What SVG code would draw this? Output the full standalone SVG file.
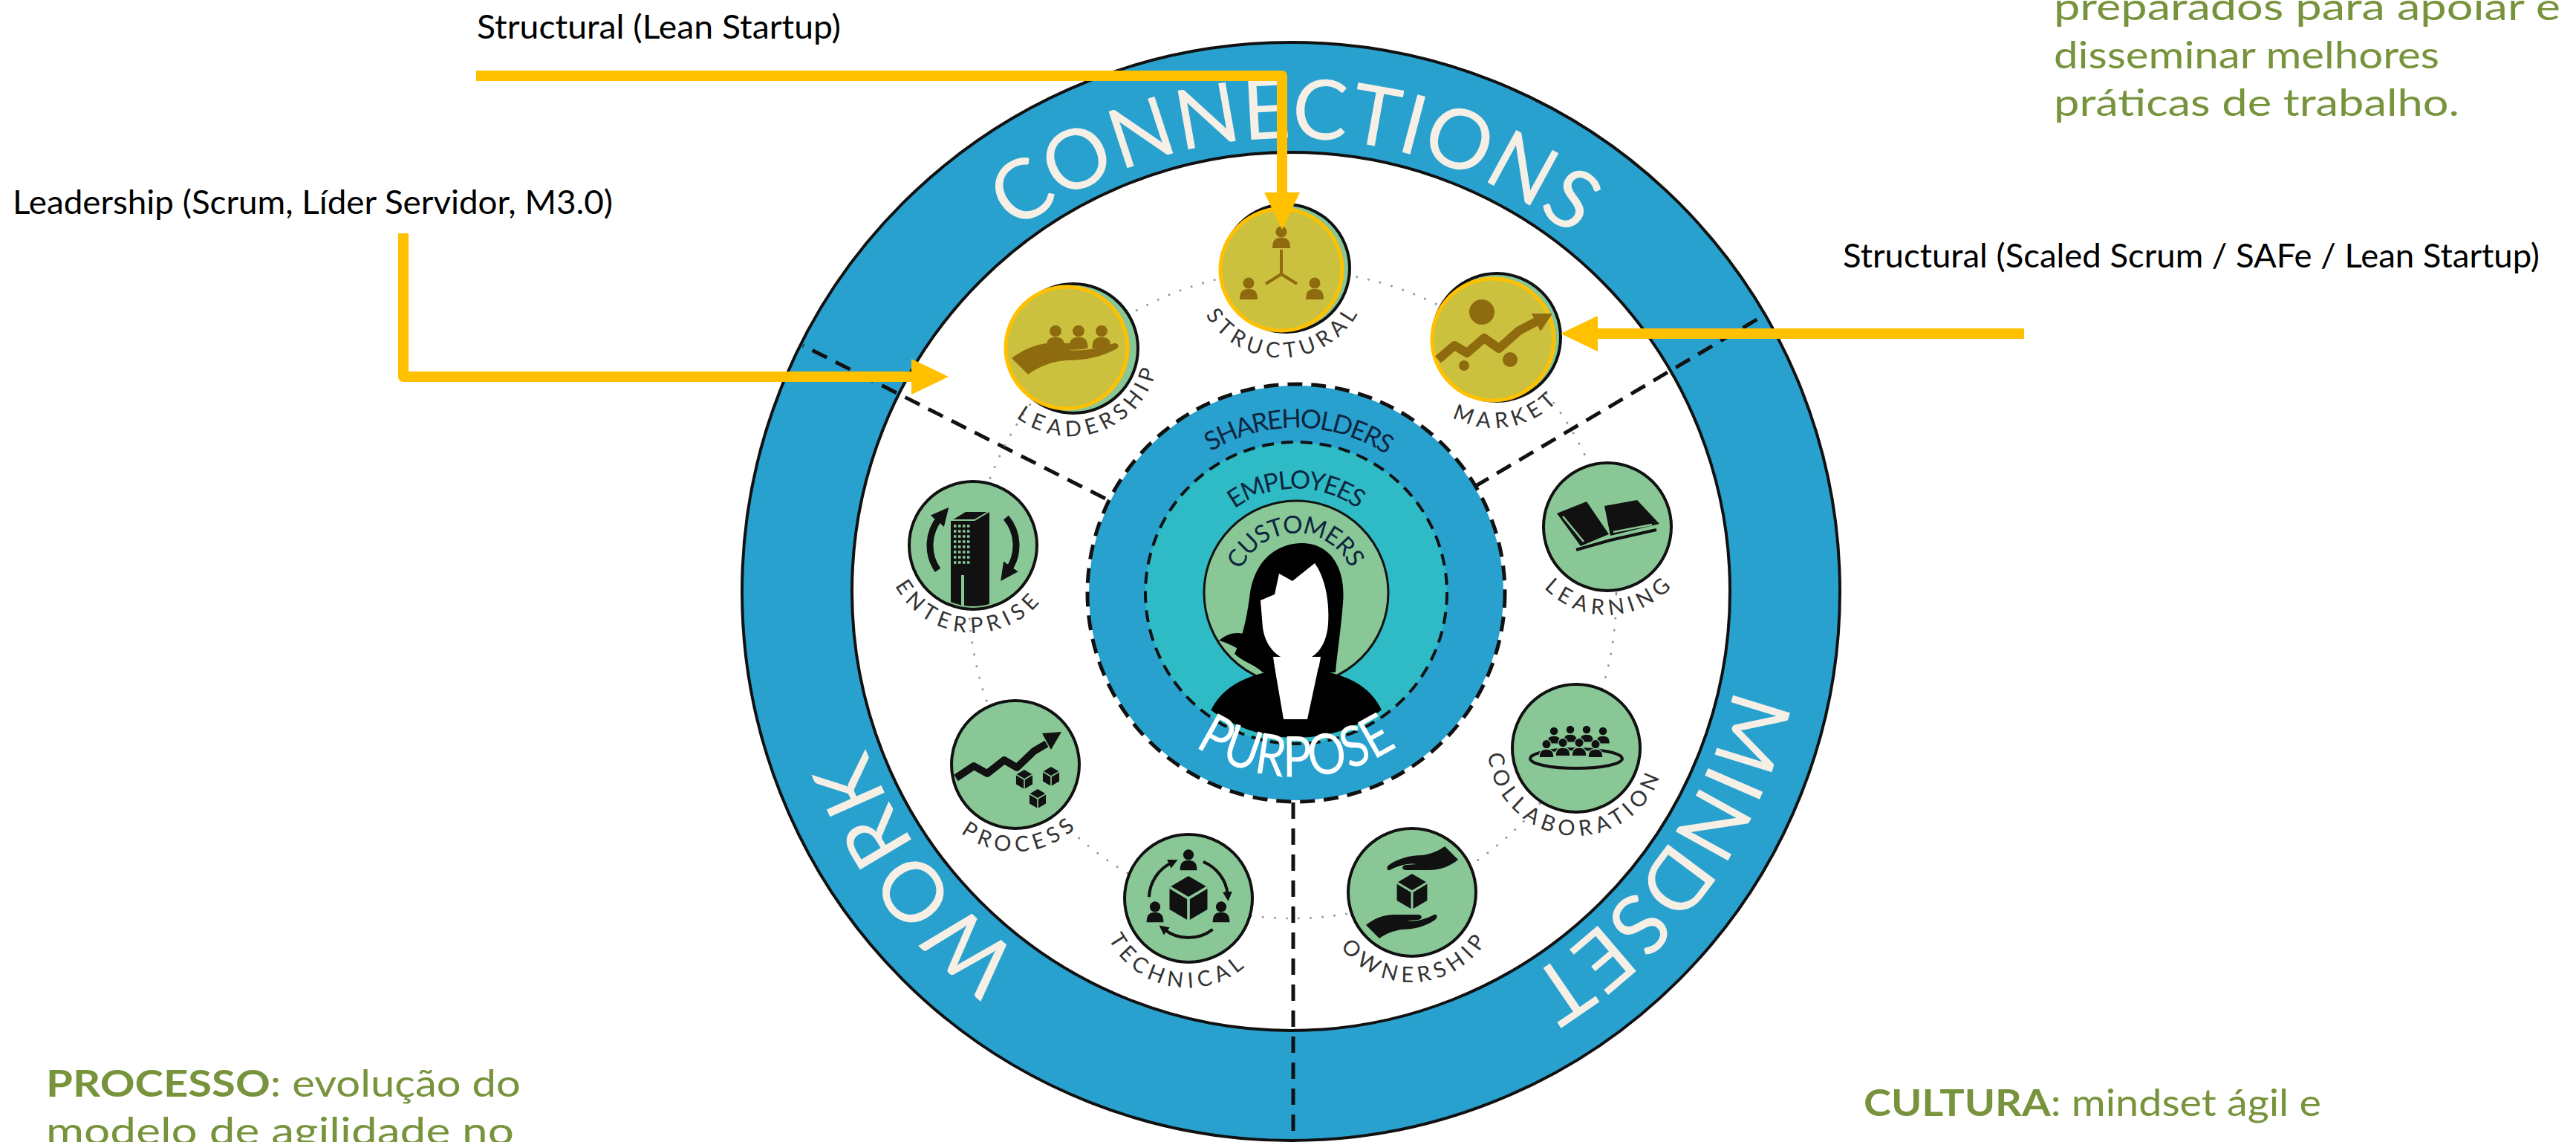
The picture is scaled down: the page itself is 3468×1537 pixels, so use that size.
<svg xmlns="http://www.w3.org/2000/svg" width="3468" height="1537" viewBox="0 0 3468 1537">
<style>
.ann{font-family:Lato,"Liberation Sans",sans-serif;font-size:44px;fill:#000}
.grn{font-family:Lato,"Liberation Sans",sans-serif;font-size:50px;fill:#77933c}
.rl{font-family:Lato,"Open Sans",sans-serif;font-size:112px;fill:#f5efe6}
.cl{font-family:Lato,"Open Sans",sans-serif;fill:#0d2640}
.nl{font-family:Lato,"Open Sans",sans-serif;font-size:29px;fill:#333;letter-spacing:7px}
.gn{fill:#89c796;stroke:#111;stroke-width:4}
.yn{fill:#ccc13f;stroke:#ffc000;stroke-width:5}
.ib{fill:#111}
.iy{fill:#8d6b0e}
.arc{fill:none;stroke:#111;stroke-width:4}
.conn{fill:none;stroke:#ffc000;stroke-width:14;stroke-linejoin:round}
.dash{fill:none;stroke:#111;stroke-width:5;stroke-dasharray:22 13}
</style>
<defs>
<marker id="ah" markerUnits="userSpaceOnUse" viewBox="0 0 50 48" markerWidth="50" markerHeight="48" refX="1" refY="24" orient="auto"><path d="M0,0 L50,24 L0,48 Z" fill="#ffc000"/></marker>
<marker id="ia" markerUnits="userSpaceOnUse" viewBox="0 0 12 12" markerWidth="13" markerHeight="13" refX="4" refY="6" orient="auto"><path d="M0,0 L12,6 L0,12 Z" fill="#111"/></marker>
<marker id="ea" markerUnits="userSpaceOnUse" viewBox="0 0 12 12" markerWidth="24" markerHeight="24" refX="3" refY="6" orient="auto"><path d="M0,0 L12,6 L0,12 Z" fill="#111"/></marker>
<g id="pp"><circle cx="0" cy="-9" r="7.5"/><path d="M-12,13 C-12,1 -7,-1 0,-1 C7,-1 12,1 12,13 Z"/></g>
<g id="cube"><polygon points="0,-20 17,-10 17,10 0,20 -17,10 -17,-10"/><path d="M-17,-10 L0,0 L17,-10 M0,0 V20" fill="none" stroke="#89c796" stroke-width="2.5"/></g>
<path id="hand" d="M-62,44 C-52,36 -40,30 -22,30 L8,30 C14,30 15,36 8,37 L-6,38 C6,40 18,36 30,30 C34,29 35,34 31,37 C18,46 2,50 -14,50 C-26,52 -36,56 -44,62 Z"/>
<clipPath id="nclip"><circle cx="0" cy="0" r="82"/></clipPath>
<clipPath id="pclip"><circle cx="1745" cy="798" r="195"/></clipPath>
<path id="pc" d="M1138.2,684.9 A610,610 0 0 1 2339.6,695.3"/>
<path id="pw" d="M2014.9,1339.5 A610,610 0 0 1 1291.9,380.0"/>
<path id="pm" d="M2173.1,368.5 A610,610 0 0 1 1475.4,1346.6"/>
<path id="psh" d="M1524.2,774.8 A222,222 0 0 1 1966.5,782.5"/>
<path id="pem" d="M1605.5,785.8 A140,140 0 0 1 1884.5,785.8"/>
<path id="pcu" d="M1665.2,792.4 A80,80 0 0 1 1824.6,789.6"/>
<path id="ppu" d="M1498.9,819.5 A247,247 0 0 0 1991.1,819.5"/>
<path id="l1" d="M1606.2,369.2 A119,119 0 0 0 1844,360.9"/>
<path id="l2" d="M1330.9,511.6 A119,119 0 0 0 1554.5,430.3"/>
<path id="l3" d="M1895.2,480.7 A119,119 0 0 0 2129.5,439.4"/>
<path id="l4" d="M2045.2,715.2 A119,119 0 0 0 2283,706.9"/>
<path id="l5" d="M2003.5,996.6 A119,119 0 0 0 2240.1,1021.5"/>
<path id="l6" d="M1781.9,1217.5 A119,119 0 0 0 2019,1200.9"/>
<path id="l7" d="M1480.9,1195.5 A119,119 0 0 0 1715,1236.8"/>
<path id="l8" d="M1248.5,1039.4 A119,119 0 0 0 1485.8,1022.8"/>
<path id="l9" d="M1191.3,725.7 A119,119 0 0 0 1428.3,746.4"/>
</defs>
<rect x="0" y="0" width="3468" height="1537" fill="#fff"/>

<g id="outer-ring">
<circle cx="1738" cy="796" r="665" fill="none" stroke="#29a1cf" stroke-width="148"/>
<circle cx="1738" cy="796" r="739" fill="none" stroke="#111" stroke-width="4"/>
<circle cx="1738" cy="796" r="591" fill="none" stroke="#111" stroke-width="4"/>
<text class="rl" text-anchor="middle"><textPath href="#pc" startOffset="50%" textLength="809">CONNECTIONS</textPath></text>
<text class="rl" text-anchor="middle"><textPath href="#pw" startOffset="50%" textLength="355">WORK</textPath></text>
<text class="rl" text-anchor="middle"><textPath href="#pm" startOffset="50%" textLength="495">MINDSET</textPath></text>
</g>

<g id="sector-lines">
<path class="dash" d="M1488,671 L1081,465"/>
<path class="dash" d="M1985,655 L2377,423"/>
<path class="dash" d="M1741,1080 L1741,1537"/>
</g>

<circle cx="1740" cy="800" r="436" fill="none" stroke="#9a9a9a" stroke-width="3" stroke-dasharray="0.1 16" stroke-linecap="round"/>

<g id="center">
<circle cx="1745" cy="798" r="279" fill="#29a1cf"/>
<circle cx="1745" cy="798" r="281" fill="none" stroke="#111" stroke-width="5" stroke-dasharray="20 12"/>
<circle cx="1745" cy="798" r="203" fill="#2ebbc6"/>
<circle cx="1745" cy="798" r="203" fill="none" stroke="#111" stroke-width="4" stroke-dasharray="16 10"/>
<circle cx="1745" cy="798" r="124" fill="#89c796" stroke="#111" stroke-width="3"/>
<g clip-path="url(#pclip)">
<path d="M1700,905 C1690,895 1672,890 1662,880 C1672,860 1678,835 1682,805 C1686,762 1712,732 1752,731 C1792,731 1812,765 1808,812 C1805,850 1800,880 1798,905 Z" fill="#000"/>
<path d="M1641,862 C1660,846 1682,850 1692,868 L1694,898 C1680,880 1662,868 1641,862 Z" fill="#000"/>
<path d="M1697,808 L1716,800 L1722,772 L1740,782 L1770,758 C1784,778 1790,808 1788,840 C1786,868 1772,888 1748,890 C1722,890 1704,872 1700,845 Z" fill="#fff"/>
<path d="M1714,884 L1778,884 L1763,968 L1726,968 Z" fill="#fff"/>
<path d="M1618,1000 C1625,945 1650,918 1703,905 L1716,898 L1728,968 L1760,968 L1775,898 L1790,905 C1842,918 1865,945 1872,1000 Z" fill="#000"/>
</g>
<text class="cl" font-size="35" text-anchor="middle"><textPath href="#psh" startOffset="50%" textLength="250">SHAREHOLDERS</textPath></text>
<text class="cl" font-size="34" text-anchor="middle"><textPath href="#pem" startOffset="50%" textLength="178">EMPLOYEES</textPath></text>
<text class="cl" font-size="33" fill="#1b1b1b" text-anchor="middle"><textPath href="#pcu" startOffset="50%" textLength="186">CUSTOMERS</textPath></text>
<text class="cl" font-size="76" style="fill:#fff" text-anchor="middle"><textPath href="#ppu" startOffset="50%" textLength="289" lengthAdjust="spacingAndGlyphs">PURPOSE</textPath></text>
</g>

<g id="node-structural">
<circle cx="1731" cy="361" r="86" class="gn"/>
<circle cx="1725" cy="363" r="82" class="yn"/>
<g transform="translate(1725,363)" class="iy">
<use href="#pp" transform="translate(0,-42)"/>
<use href="#pp" transform="translate(-44,27)"/>
<use href="#pp" transform="translate(45,27)"/>
<path d="M0,-27 V6 L-21,19 M0,6 L21,19" fill="none" stroke="#8d6b0e" stroke-width="4"/>
</g>
<text class="nl" text-anchor="middle"><textPath href="#l1" startOffset="50%">STRUCTURAL</textPath></text>
</g>

<g id="node-leadership">
<circle cx="1445" cy="469" r="87" class="gn"/>
<circle cx="1436" cy="468" r="82" class="yn"/>
<g transform="translate(1436,468)" class="iy">
<use href="#pp" transform="translate(-15,-13) scale(1.05)"/>
<use href="#pp" transform="translate(16,-13) scale(1.05)"/>
<use href="#pp" transform="translate(47,-13) scale(1.05)"/>
<path d="M-74,14 C-60,4 -45,-4 -26,-6 L22,-6 C30,-6 31,1 22,2 L2,3 C20,5 45,1 64,-6 C70,-7 72,-1 66,2 C48,12 25,17 0,17 C-20,18 -38,26 -52,36 Z"/>
</g>
<text class="nl" text-anchor="middle"><textPath href="#l2" startOffset="50%">LEADERSHIP</textPath></text>
</g>

<g id="node-market">
<circle cx="2015" cy="454" r="86" class="gn"/>
<circle cx="2010" cy="457" r="82" class="yn"/>
<g transform="translate(2010,457)" class="iy">
<circle cx="-15" cy="-37" r="17"/>
<circle cx="-39" cy="35" r="7"/>
<circle cx="23" cy="27" r="10"/>
<path d="M-74,27 L-52,8 L-35,18 L-12,-2 L8,12 L35,-12 L58,-24" fill="none" stroke="#8d6b0e" stroke-width="12" stroke-linejoin="round"/>
<polygon points="80,-35 52,-35 64,-11"/>
</g>
<text class="nl" text-anchor="middle"><textPath href="#l3" startOffset="50%">MARKET</textPath></text>
</g>

<g id="node-learning">
<circle cx="2164" cy="709" r="86" class="gn"/>
<g transform="translate(2164,709)" class="ib">
<polygon points="-68,-18 -28,-34 2,10 -36,26"/>
<polygon points="-4,-28 40,-36 70,-4 4,12"/>
<path d="M-60,-14 L-32,20 M8,7 L60,-3" stroke="#89c796" stroke-width="2.5" fill="none"/>
<polyline points="-42,31 4,18 66,4" fill="none" stroke="#111" stroke-width="4"/>
</g>
<text class="nl" text-anchor="middle"><textPath href="#l4" startOffset="50%">LEARNING</textPath></text>
</g>

<g id="node-collaboration">
<circle cx="2122" cy="1007" r="86" class="gn"/>
<g transform="translate(2122,1007)" class="ib" stroke="#89c796" stroke-width="1.5">
<ellipse cx="0" cy="14" rx="62" ry="13" fill="none" stroke="#111" stroke-width="4"/>
<use href="#pp" transform="translate(-30,-16) scale(0.78)"/>
<use href="#pp" transform="translate(-8,-18) scale(0.78)"/>
<use href="#pp" transform="translate(14,-18) scale(0.78)"/>
<use href="#pp" transform="translate(36,-16) scale(0.78)"/>
<use href="#pp" transform="translate(-40,2) scale(0.82)"/>
<use href="#pp" transform="translate(-18,0) scale(0.82)"/>
<use href="#pp" transform="translate(4,0) scale(0.82)"/>
<use href="#pp" transform="translate(26,2) scale(0.82)"/>
</g>
<text class="nl" text-anchor="middle"><textPath href="#l5" startOffset="50%">COLLABORATION</textPath></text>
</g>

<g id="node-ownership">
<circle cx="1901" cy="1201" r="86" class="gn"/>
<g transform="translate(1901,1201)" class="ib">
<use href="#hand"/>
<use href="#hand" transform="rotate(180)"/>
<use href="#cube" transform="translate(0,-1) scale(1.2)"/>
</g>
<text class="nl" text-anchor="middle"><textPath href="#l6" startOffset="50%">OWNERSHIP</textPath></text>
</g>

<g id="node-technical">
<circle cx="1600" cy="1209" r="86" class="gn"/>
<g transform="translate(1600,1209)" class="ib">
<use href="#cube" transform="scale(1.5)"/>
<use href="#pp" transform="translate(0,-50) scale(0.95)"/>
<use href="#pp" transform="translate(-45,20) scale(0.95)"/>
<use href="#pp" transform="translate(44,20) scale(0.95)"/>
<path class="arc" d="M-53,-1.8 A53,53 0 0 1 -22.4,-48" marker-end="url(#ia)"/>
<path class="arc" d="M19.9,-49.1 A53,53 0 0 1 52.8,-4.6" marker-end="url(#ia)"/>
<path class="arc" d="M32.6,41.8 A53,53 0 0 1 -32.6,41.8" marker-end="url(#ia)"/>
</g>
<text class="nl" text-anchor="middle"><textPath href="#l7" startOffset="50%">TECHNICAL</textPath></text>
</g>

<g id="node-process">
<circle cx="1367" cy="1029" r="86" class="gn"/>
<g transform="translate(1367,1029)" class="ib">
<path d="M-80,18 L-56,2 L-38,12 L-15,-6 L2,4 L25,-18 L42,-28" fill="none" stroke="#111" stroke-width="10" stroke-linejoin="round"/>
<polygon points="62,-44 36,-42 48,-20"/>
<use href="#cube" transform="translate(12,20) scale(0.65)"/>
<use href="#cube" transform="translate(48,16) scale(0.65)"/>
<use href="#cube" transform="translate(30,46) scale(0.65)"/>
</g>
<text class="nl" text-anchor="middle"><textPath href="#l8" startOffset="50%">PROCESS</textPath></text>
</g>

<g id="node-enterprise">
<circle cx="1310" cy="734" r="86" class="gn"/>
<g transform="translate(1310,734)" class="ib">
<g clip-path="url(#nclip)">
<polygon points="-30,-34 2,-34 2,95 -30,95"/>
<polygon points="2,-34 22,-46 22,85 2,95"/>
<polygon points="-30,-34 -10,-46 22,-46 2,-34" stroke="#89c796" stroke-width="2"/>
<path d="M-26,-26 H-4 M-26,-19 H-4 M-26,-12 H-4 M-26,-5 H-4 M-26,2 H-4 M-26,9 H-4 M-26,16 H-4 M-26,23 H-4" stroke="#89c796" stroke-width="3.5" stroke-dasharray="3.5 2.5" fill="none"/>
<rect x="-16" y="40" width="4" height="50" fill="#89c796"/>
</g>
<path d="M-47.5,33.3 A58,58 0 0 1 -44.4,-37.3" fill="none" stroke="#111" stroke-width="9" marker-end="url(#ea)"/>
<path d="M44.4,-37.3 A58,58 0 0 1 47.5,33.3" fill="none" stroke="#111" stroke-width="9" marker-end="url(#ea)"/>
</g>
<text class="nl" text-anchor="middle"><textPath href="#l9" startOffset="50%">ENTERPRISE</textPath></text>
</g>

<g id="connectors">
<path class="conn" d="M641,102 H1726 V260" marker-end="url(#ah)"/>
<path class="conn" d="M543,314 V507 H1228" marker-end="url(#ah)"/>
<path class="conn" d="M2725,449 H2150" marker-end="url(#ah)"/>
</g>

<g id="annotations">
<text class="ann" x="642" y="52" textLength="490" lengthAdjust="spacingAndGlyphs">Structural (Lean Startup)</text>
<text class="ann" x="17" y="288" textLength="808" lengthAdjust="spacingAndGlyphs">Leadership (Scrum, Líder Servidor, M3.0)</text>
<text class="ann" x="2481" y="360" textLength="938" lengthAdjust="spacingAndGlyphs">Structural (Scaled Scrum / SAFe / Lean Startup)</text>
<text class="grn" x="2765" y="27" textLength="682" lengthAdjust="spacingAndGlyphs">preparados para apoiar e</text>
<text class="grn" x="2765" y="92" textLength="519" lengthAdjust="spacingAndGlyphs">disseminar melhores</text>
<text class="grn" x="2765" y="156" textLength="546" lengthAdjust="spacingAndGlyphs">práticas de trabalho.</text>
<text class="grn" x="62" y="1476" textLength="639" lengthAdjust="spacingAndGlyphs"><tspan font-weight="700">PROCESSO</tspan>: evolução do</text>
<text class="grn" x="62" y="1540" textLength="630" lengthAdjust="spacingAndGlyphs">modelo de agilidade no</text>
<text class="grn" x="2509" y="1502" textLength="616" lengthAdjust="spacingAndGlyphs"><tspan font-weight="700">CULTURA</tspan>: mindset ágil e</text>
</g>
</svg>
